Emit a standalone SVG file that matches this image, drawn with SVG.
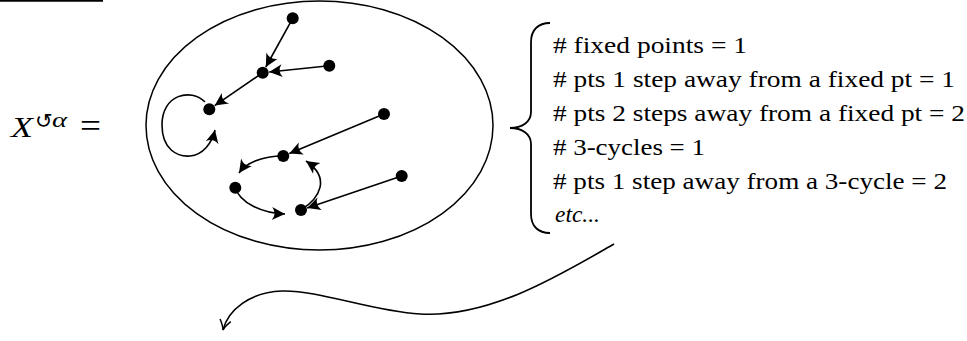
<svg xmlns="http://www.w3.org/2000/svg" width="967" height="341" viewBox="0 0 967 341">
<style>
.t{font-family:'Liberation Serif','Times New Roman','DejaVu Serif',serif;fill:#000}
.c{font-family:'Liberation Serif','Times New Roman','DejaVu Serif',serif;font-size:24px;fill:#000}
.e{fill:none;stroke:#000;stroke-width:1.6}
.d{fill:#000}
</style>
<defs>
<marker id="st" markerUnits="userSpaceOnUse" viewBox="-15 -8 17 16" markerWidth="17" markerHeight="16" refX="0" refY="0" orient="auto">
<path d="M0,0 L-13,-6.5 Q-8,0 -13,6.5 Z" fill="#000"/>
</marker>
<marker id="to" markerUnits="userSpaceOnUse" viewBox="-12 -7 14 14" markerWidth="14" markerHeight="14" refX="0" refY="0" orient="auto">
<path d="M-10,-5.5 Q-4,-1 0,0 Q-4,1 -10,5.5" fill="none" stroke="#000" stroke-width="1.5"/>
</marker>
</defs>
<rect width="967" height="341" fill="#fff"/>
<line x1="0" y1="0.8" x2="103" y2="0.8" stroke="#000" stroke-width="1.8"/>

<g id="label">
<text class="t" x="11" y="137" style="font-size:29px;font-style:italic" textLength="22" lengthAdjust="spacingAndGlyphs">X</text>
<text x="35" y="128" style="font-family:'DejaVu Sans',sans-serif;font-size:21px">↺</text>
<text class="t" x="52" y="127" style="font-size:21px;font-style:italic" textLength="15" lengthAdjust="spacingAndGlyphs">α</text>
<text class="t" x="80" y="137" style="font-size:33px" textLength="21" lengthAdjust="spacingAndGlyphs">=</text>
</g>

<g id="set">
<ellipse cx="319.5" cy="125.5" rx="173.5" ry="124.5" fill="none" stroke="#000" stroke-width="1.5"/>
</g>

<g id="connectors">
<path class="e" marker-end="url(#st)" d="M292.7,18.3 L265.8,67"/>
<path class="e" marker-end="url(#st)" d="M329.3,65.7 L269.2,72"/>
<path class="e" marker-end="url(#st)" d="M262.7,72.7 L214.7,105.6"/>
<path class="e" marker-end="url(#st)" d="M205,102 C191,88 162,94 162,125 C162,150 178,157 190,156 C203,155 212,143 215,130"/>
<path class="e" marker-end="url(#st)" d="M384,114 L289.3,153.5"/>
<path class="e" marker-end="url(#st)" d="M401.7,176 L307.2,207.9"/>
<path class="e" marker-end="url(#st)" d="M283,156 C262,156 246,163 239,173"/>
<path class="e" marker-end="url(#st)" d="M235.3,187.7 C240,203 262,213 285,214"/>
<path class="e" marker-end="url(#st)" d="M301,210 C320,198 331,178 306,161"/>
<path class="e" marker-end="url(#to)" d="M614,244 C560,275 490,318 420,314 C370,311 320,290 282,291 C250,292 228,310 223,330"/>
</g>

<g id="n1"><circle class="d" cx="292.7" cy="18.3" r="6"/></g>
<g id="n2"><circle class="d" cx="262.7" cy="72.7" r="6"/></g>
<g id="n3"><circle class="d" cx="329.3" cy="65.7" r="6"/></g>
<g id="n4"><circle class="d" cx="209.3" cy="109.3" r="6"/></g>
<g id="n5"><circle class="d" cx="384" cy="114" r="6"/></g>
<g id="n6"><circle class="d" cx="283.3" cy="156" r="6"/></g>
<g id="n7"><circle class="d" cx="235.3" cy="187.7" r="6"/></g>
<g id="n8"><circle class="d" cx="301" cy="210" r="6"/></g>
<g id="n9"><circle class="d" cx="401.7" cy="176" r="6"/></g>

<g id="brace">
<path d="M550,23 C538,23 531,30 531,42 L531,112 C531,122 522,128 510,128 C522,128 531,134 531,144 L531,214 C531,226 538,233 550,233" fill="none" stroke="#000" stroke-width="1.8"/>
</g>

<g id="counts">
<text class="c" x="553" y="53" textLength="194" lengthAdjust="spacingAndGlyphs"># fixed points = 1</text>
<text class="c" x="553" y="87" textLength="402" lengthAdjust="spacingAndGlyphs"># pts 1 step away from a fixed pt = 1</text>
<text class="c" x="553" y="121" textLength="412" lengthAdjust="spacingAndGlyphs"># pts 2 steps away from a fixed pt = 2</text>
<text class="c" x="553" y="155" textLength="152" lengthAdjust="spacingAndGlyphs"># 3-cycles = 1</text>
<text class="c" x="553" y="189" textLength="394" lengthAdjust="spacingAndGlyphs"># pts 1 step away from a 3-cycle = 2</text>
<text class="c" x="555" y="222" style="font-style:italic" textLength="45" lengthAdjust="spacingAndGlyphs">etc...</text>
</g>
</svg>
